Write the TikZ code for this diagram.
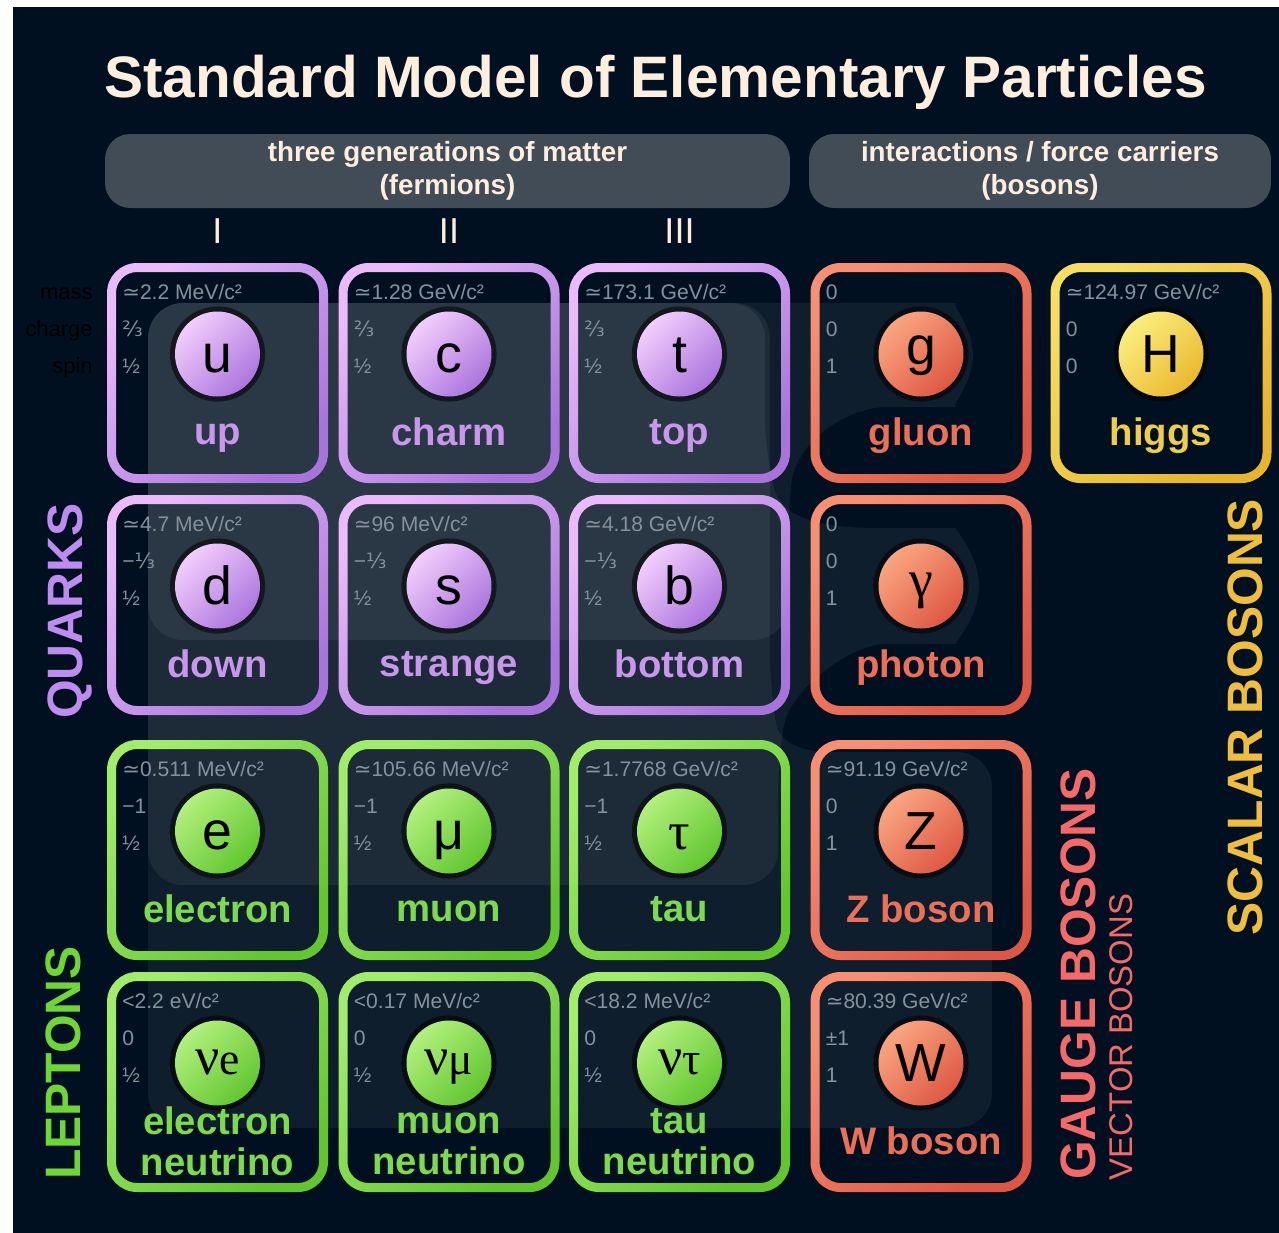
\documentclass[tikz,border=0pt]{standalone}
\usepackage{fontspec}
\setmainfont{Liberation Sans}
\newfontfamily\symfont{DejaVu Sans}
\newfontfamily\greekserif{Liberation Serif}
\usetikzlibrary{shadows}
\definecolor{smnavy}{RGB}{0,16,32}
\definecolor{smheader}{RGB}{66,76,86}
\definecolor{smcream}{RGB}{253,238,222}
\definecolor{smgray}{RGB}{135,145,155}
\definecolor{smquark}{RGB}{200,150,235}
\definecolor{smquarklt}{RGB}{242,205,252}
\definecolor{smquarkdk}{RGB}{172,118,222}
\definecolor{smquarkb1}{RGB}{234,186,250}
\definecolor{smquarkb2}{RGB}{168,116,220}
\definecolor{smlepton}{RGB}{125,218,80}
\definecolor{smleptonlt}{RGB}{178,240,125}
\definecolor{smleptondk}{RGB}{98,198,48}
\definecolor{smleptonb1}{RGB}{162,236,108}
\definecolor{smleptonb2}{RGB}{98,198,46}
\definecolor{smgauge}{RGB}{236,112,88}
\definecolor{smgaugelt}{RGB}{250,165,128}
\definecolor{smgaugedk}{RGB}{222,88,68}
\definecolor{smgaugeb1}{RGB}{248,142,114}
\definecolor{smgaugeb2}{RGB}{222,86,68}
\definecolor{smhiggs}{RGB}{238,205,75}
\definecolor{smhiggslt}{RGB}{250,238,125}
\definecolor{smhiggsdk}{RGB}{234,184,48}
\definecolor{smhiggsb1}{RGB}{246,222,98}
\definecolor{smhiggsb2}{RGB}{232,180,46}
\definecolor{smquarklbl}{RGB}{190,140,240}
\definecolor{smleptonlbl}{RGB}{110,215,55}
\definecolor{smgaugelbl}{RGB}{245,105,105}
\definecolor{smscalarlbl}{RGB}{240,190,60}
\tikzset{
  cellbox/.style={
    rectangle, minimum width=4.24cm, minimum height=4.22cm, inner sep=0pt
  },
  ballbase/.style={
    circle, minimum size=1.7cm, inner sep=0pt, text=black,
    font=\fontsize{30.5}{30.5}\selectfont, text height=21.6pt, text depth=0pt,
    drop shadow={shadow xshift=0pt, shadow yshift=0pt, shadow scale=1.12, fill=black, opacity=.55}
  },
  namebase/.style={align=center, inner sep=0pt, font=\bfseries\fontsize{21.8}{21}\selectfont},
  prop/.style={anchor=base west, inner sep=0pt, text=smgray, font=\fontsize{12}{12}\selectfont},
  proplbl/.style={anchor=base east, inner sep=0pt, text=black, font=\fontsize{12.5}{12}\selectfont},
  qcell/.style={cellbox},
  qring/.style={top color=smquarkb1, bottom color=smquarkb2, shading angle=45},
  qball/.style={ballbase, top color=smquarklt, bottom color=smquarkdk, shading angle=45},
  qname/.style={namebase, text=smquark},
  lcell/.style={cellbox},
  lring/.style={top color=smleptonb1, bottom color=smleptonb2, shading angle=45},
  lball/.style={ballbase, top color=smleptonlt, bottom color=smleptondk, shading angle=45},
  lname/.style={namebase, text=smlepton},
  gcell/.style={cellbox},
  gring/.style={top color=smgaugeb1, bottom color=smgaugeb2, shading angle=45},
  gball/.style={ballbase, top color=smgaugelt, bottom color=smgaugedk, shading angle=45},
  gname/.style={namebase, text=smgauge},
  hcell/.style={cellbox},
  hring/.style={top color=smhiggsb1, bottom color=smhiggsb2, shading angle=45},
  hball/.style={ballbase, top color=smhiggslt, bottom color=smhiggsdk, shading angle=45},
  hname/.style={namebase, text=smhiggs},
  hdrbox/.style={
    rectangle, rounded corners=0.5cm, fill=smheader, text=smcream,
    minimum height=1.48cm, align=center,
    font=\bfseries\fontsize{15.8}{18.7}\selectfont
  },
  gen/.style={anchor=base, inner sep=0pt, text=smcream, font=\fontsize{20.5}{20}\selectfont},
  sidelbl/.style={anchor=base, rotate=90, inner sep=0pt, font=\bfseries\fontsize{28.3}{30}\selectfont},
  layer/.style={fill=white, fill opacity=.06, rounded corners=0.7cm},
}
\newcommand{\apx}{{\symfont ≃}}
\newcommand{\frtt}{{\symfont ⅔}}
\newcommand{\frot}{{\symfont ⅓}}
\newcommand{\nusym}[1]{\raisebox{4pt}{{\greekserif ν{\fontsize{26}{26}\selectfont #1}}}}
% one particle: name, x, y, family, mass, charge, spin, symbol, label
\newcommand{\particle}[9]{%
  \node[#4cell] (#1) at (#2,#3) {};
  \path[#4ring, even odd rule]
    [rounded corners=0.6cm] (#2-110.5,#3-110) rectangle (#2+110.5,#3+110)
    [rounded corners=0.42cm] (#2-101.5,#3-101) rectangle (#2+101.5,#3+101);
  \node[#4ball] (#1-sym) at (#2,#3-19) {#8};
  \node[#4name] (#1-name) at (#2,#3+64.5) {\strut #9};
  \node[prop] (#1-mass) at (#2-95.5,#3-74) {#5};
  \node[prop] (#1-charge) at (#2-95.5,#3-37) {#6};
  \node[prop] (#1-spin) at (#2-95.5,#3) {#7};
}

\begin{document}
\begin{tikzpicture}[x=0.02cm, y=-0.02cm]
  \useasboundingbox (0,0) rectangle (1279,1232);
  \fill[white] (-10,-10) rectangle (1290,1245);
  \fill[smnavy] (13,7) rectangle (1290,1245);

  % interaction layers
  \fill[layer] (148,303) -- (770,303) -- (770,690) .. controls (780,745) and (810,752) .. (860,752)
    -- (992,752) -- (992,1128) -- (148,1128) -- cycle;
  \fill[layer] (148,303) -- (765,303) -- (765,455) .. controls (785,528) and (850,528) .. (921,528)
    arc[start angle=90, end angle=-90, radius=1.16cm]
    .. controls (850,644) and (790,690) .. (778,760) -- (778,885) -- (148,885) -- cycle;
  \fill[layer] (148,303) -- (921,303) arc[start angle=90, end angle=-90, radius=1.04cm]
    .. controls (850,407) and (795,440) .. (788,520) -- (788,640) -- (148,640) -- cycle;

  \node[anchor=base, inner sep=0pt, text=smcream, font=\bfseries\fontsize{33.3}{40}\selectfont]
    (title) at (655.5,97) {Standard Model of Elementary Particles};
  \node[hdrbox, minimum width=13.7cm] (fermions) at (447.5,171) {three generations of matter\\(fermions)};
  \node[hdrbox, minimum width=9.24cm] (bosons) at (1040,171) {interactions / force carriers\\(bosons)};

  \node[gen] (gen1) at (217.5,243) {I};
  \node[gen] (gen2) at (449,243) {II};
  \node[gen] (gen3) at (679.5,243) {III};

  \node[proplbl] (masslbl) at (93,299) {mass};
  \node[proplbl] (chargelbl) at (93,336) {charge};
  \node[proplbl] (spinlbl) at (93,373) {spin};

  \particle{up}{217.5}{373}{q}{\apx2.2 MeV/c²}{\frtt}{½}{u}{up}
  \particle{charm}{449}{373}{q}{\apx1.28 GeV/c²}{\frtt}{½}{c}{charm}
  \particle{top}{679.5}{373}{q}{\apx173.1 GeV/c²}{\frtt}{½}{t}{top}
  \particle{gluon}{921}{373}{g}{0}{0}{1}{\raisebox{5pt}{g}}{gluon}
  \particle{higgs}{1161}{373}{h}{\apx124.97 GeV/c²}{0}{0}{H}{higgs}

  \particle{down}{217.5}{605}{q}{\apx4.7 MeV/c²}{−\frot}{½}{d}{down}
  \particle{strange}{449}{605}{q}{\apx96 MeV/c²}{−\frot}{½}{s}{strange}
  \particle{bottom}{679.5}{605}{q}{\apx4.18 GeV/c²}{−\frot}{½}{b}{bottom}
  \particle{photon}{921}{605}{g}{0}{0}{1}{\raisebox{4pt}{\greekserif γ}}{photon}

  \particle{electron}{217.5}{850}{l}{\apx0.511 MeV/c²}{−1}{½}{e}{electron}
  \particle{muon}{449}{850}{l}{\apx105.66 MeV/c²}{−1}{½}{μ}{muon}
  \particle{tau}{679.5}{850}{l}{\apx1.7768 GeV/c²}{−1}{½}{{\greekserif τ}}{tau}
  \particle{zboson}{921}{850}{g}{\apx91.19 GeV/c²}{0}{1}{Z}{Z boson}

  \particle{nue}{217.5}{1082}{l}{<2.2 eV/c²}{0}{½}{\nusym{e}}{electron\\\strut neutrino}
  \particle{numu}{449}{1082}{l}{<0.17 MeV/c²}{0}{½}{\nusym{μ}}{muon\\\strut neutrino}
  \particle{nutau}{679.5}{1082}{l}{<18.2 MeV/c²}{0}{½}{\nusym{τ}}{tau\\\strut neutrino}
  \particle{wboson}{921}{1082}{g}{\apx80.39 GeV/c²}{±1}{1}{W}{W boson}

  \node[sidelbl, text=smquarklbl] (quarks) at (82,611) {QUARKS};
  \node[sidelbl, text=smleptonlbl] (leptons) at (80,1063) {LEPTONS};
  \node[sidelbl, text=smgaugelbl] (gauge) at (1095,974) {GAUGE BOSONS};
  \node[sidelbl, text=smgaugelbl, font=\fontsize{18.7}{20}\selectfont] (vector) at (1132,1037) {VECTOR BOSONS};
  \node[sidelbl, text=smscalarlbl] (scalar) at (1262,717) {SCALAR BOSONS};
\end{tikzpicture}
\end{document}
